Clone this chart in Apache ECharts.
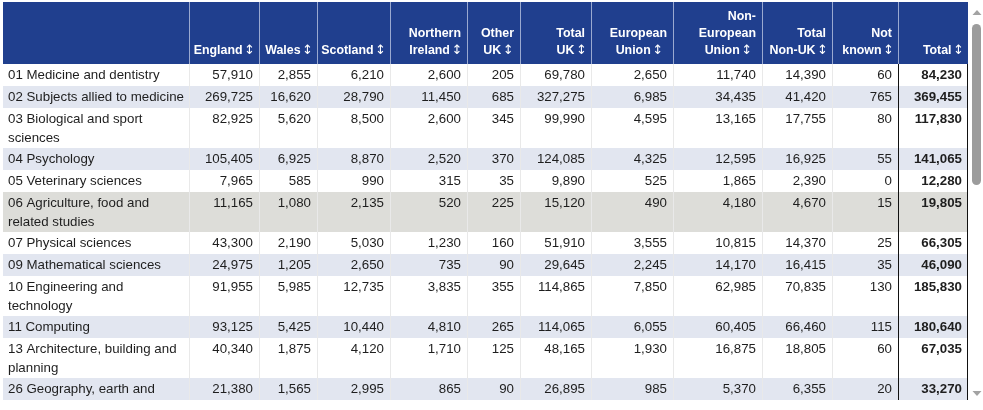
<!DOCTYPE html>
<html><head><meta charset="utf-8">
<script src="https://cdn.jsdelivr.net/npm/echarts@6/dist/echarts.min.js"></script>
<style>html,body{margin:0;padding:0;background:#fff}#c{width:983px;height:410px}</style>
</head><body><div id="c"></div>
<script>
// ---- data ----
const headers = ['', 'England', 'Wales', 'Scotland', 'Northern\nIreland', 'Other\nUK', 'Total\nUK',
  'European\nUnion', 'Non-\nEuropean\nUnion', 'Total\nNon-UK', 'Not\nknown', 'Total'];
const subjects = [
  '01 Medicine and dentistry',
  '02 Subjects allied to medicine',
  '03 Biological and sport\nsciences',
  '04 Psychology',
  '05 Veterinary sciences',
  '06 Agriculture, food and\nrelated studies',
  '07 Physical sciences',
  '09 Mathematical sciences',
  '10 Engineering and\ntechnology',
  '11 Computing',
  '13 Architecture, building and\nplanning',
  '26 Geography, earth and\nenvironmental studies'
];
const england    = [57910, 269725, 82925, 105405, 7965, 11165, 43300, 24975, 91955, 93125, 40340, 21380];
const wales      = [2855, 16620, 5620, 6925, 585, 1080, 2190, 1205, 5985, 5425, 1875, 1565];
const scotland   = [6210, 28790, 8500, 8870, 990, 2135, 5030, 2650, 12735, 10440, 4120, 2995];
const nIreland   = [2600, 11450, 2600, 2520, 315, 520, 1230, 735, 3835, 4810, 1710, 865];
const otherUK    = [205, 685, 345, 370, 35, 225, 160, 90, 355, 265, 125, 90];
const totalUK    = [69780, 327275, 99990, 124085, 9890, 15120, 51910, 29645, 114865, 114065, 48165, 26895];
const eu         = [2650, 6985, 4595, 4325, 525, 490, 3555, 2245, 7850, 6055, 1930, 985];
const nonEU      = [11740, 34435, 13165, 12595, 1865, 4180, 10815, 14170, 62985, 60405, 16875, 5370];
const totalNonUK = [14390, 41420, 17755, 16925, 2390, 4670, 14370, 16415, 70835, 66460, 18805, 6355];
const notKnown   = [60, 765, 80, 55, 0, 15, 25, 35, 130, 115, 60, 20];
const total      = [84230, 369455, 117830, 141065, 12280, 19805, 66305, 46090, 185830, 180640, 67035, 33270];

// ---- layout ----
const valueCols = [england, wales, scotland, nIreland, otherUK, totalUK, eu, nonEU, totalNonUK, notKnown, total];
const colWidths = [186, 70, 58, 73, 77, 53, 71, 82, 89, 70, 66, 70];
const HEADER_H = 62, ROW_H = 22, EXTRA_LINE_H = 18;
const HIGHLIGHT_ROW = 5;
const FONT = '"Liberation Sans", Arial, "DejaVu Sans", sans-serif';
const FS = 13.3;

const xEdges = [0];
colWidths.forEach(w => xEdges.push(xEdges[xEdges.length - 1] + w));
const yEdges = [0, HEADER_H];
subjects.forEach(s => {
  const lines = s.split('\n').length;
  yEdges.push(yEdges[yEdges.length - 1] + ROW_H + EXTRA_LINE_H * (lines - 1));
});
const TOTAL_W = xEdges[xEdges.length - 1];
const VIEW_H = 398;

const cells = [];
for (let r = -1; r < subjects.length; r++) {
  for (let c = 0; c < headers.length; c++) {
    cells.push([xEdges[c], xEdges[c + 1], yEdges[r + 1], yEdges[r + 2], r, c]);
  }
}

function fmt(v) { return v.toLocaleString('en-GB'); }

function headerText(h) {
  const lines = h.split('\n');
  return lines.map((l, i) => i === lines.length - 1 ? '{t|' + l + ' }{a|↕}' : '{t|' + l + '}').join('\n');
}

function renderItem(params, api) {
  const x0 = api.value(0), x1 = api.value(1), y0 = api.value(2), y1 = api.value(3);
  const r = api.value(4), c = api.value(5);
  const p0 = api.coord([x0, y0]), p1 = api.coord([x1, y1]);
  const w = p1[0] - p0[0], h = p1[1] - p0[1];
  const children = [];
  if (r < 0) {
    children.push({ type: 'rect', shape: { x: p0[0], y: p0[1], width: w, height: h }, style: { fill: '#203F8E' } });
    if (c < headers.length - 1) {
      children.push({ type: 'line', z2: 3, shape: { x1: Math.round(p1[0]) + 0.5, y1: p0[1], x2: Math.round(p1[0]) + 0.5, y2: p1[1] },
        style: { stroke: '#9AA9D0', lineWidth: 1 } });
    }
    if (headers[c]) {
      children.push({ type: 'text', z2: 5, style: {
        text: headerText(headers[c]), x: p1[0] - 6, y: p1[1] - 5, align: 'right', verticalAlign: 'bottom',
        rich: {
          t: { font: 'bold 12.4px ' + FONT, fill: '#ffffff', lineHeight: 17 },
          a: { font: '13px "DejaVu Sans", sans-serif', fill: '#ffffff', lineHeight: 17, width: 7, align: 'center' }
        } } });
    }
  } else {
    let bg = (r % 2 === 1) ? '#E2E6F0' : '#ffffff';
    if (r === HIGHLIGHT_ROW) bg = '#DDDDD9';
    children.push({ type: 'rect', shape: { x: p0[0], y: p0[1], width: w, height: h }, style: { fill: bg } });
    if (c < headers.length - 2) {
      children.push({ type: 'line', z2: 3, shape: { x1: Math.round(p1[0]) + 0.5, y1: p0[1], x2: Math.round(p1[0]) + 0.5, y2: p1[1] },
        style: { stroke: '#E9E9E9', lineWidth: 1 } });
    }
    if (c === headers.length - 1) {
      children.push({ type: 'line', z2: 10, shape: { x1: Math.round(p0[0]) + 0.5, y1: p0[1], x2: Math.round(p0[0]) + 0.5, y2: p1[1] },
        style: { stroke: '#111111', lineWidth: 1 } });
      children.push({ type: 'line', z2: 10, shape: { x1: Math.round(p1[0]) - 0.5, y1: p0[1], x2: Math.round(p1[0]) - 0.5, y2: p1[1] },
        style: { stroke: '#111111', lineWidth: 1 } });
    }
    if (c === 0) {
      children.push({ type: 'text', z2: 5, style: {
        text: subjects[r], x: p0[0] + 5, y: p0[1] + 1.5, align: 'left', verticalAlign: 'top',
        font: FS + 'px ' + FONT, fill: '#1e1e1e', lineHeight: 19 } });
    } else {
      const bold = (c === headers.length - 1);
      children.push({ type: 'text', z2: 5, style: {
        text: fmt(valueCols[c - 1][r]), x: p1[0] - 6, y: p0[1] + 1.5, align: 'right', verticalAlign: 'top',
        font: (bold ? 'bold ' : '') + FS + 'px ' + FONT, fill: '#1e1e1e', lineHeight: 19 } });
    }
  }
  return { type: 'group', children };
}

const chart = echarts.init(document.getElementById('c'), null, { renderer: 'canvas' });
chart.setOption({
  animation: false,
  backgroundColor: '#ffffff',
  grid: { left: 3, top: 2, width: TOTAL_W, height: VIEW_H },
  xAxis: { type: 'value', min: 0, max: TOTAL_W, show: false },
  yAxis: { type: 'value', min: 0, max: VIEW_H, inverse: true, show: false },
  series: [{
    type: 'custom', renderItem, clip: true, silent: true,
    encode: { x: [0, 1], y: [2, 3] },
    data: cells
  }],
  graphic: [
    { type: 'polygon', shape: { points: [[972.5, 15], [977, 10], [981.5, 15]] }, style: { fill: '#A3A3A3' } },
    { type: 'rect', shape: { x: 972, y: 24, width: 9, height: 161, r: 4.5 }, style: { fill: '#9C9C9C' } },
    { type: 'polygon', shape: { points: [[972.5, 391], [977, 396], [981.5, 391]] }, style: { fill: '#A3A3A3' } }
  ]
});
</script>
</body></html>
